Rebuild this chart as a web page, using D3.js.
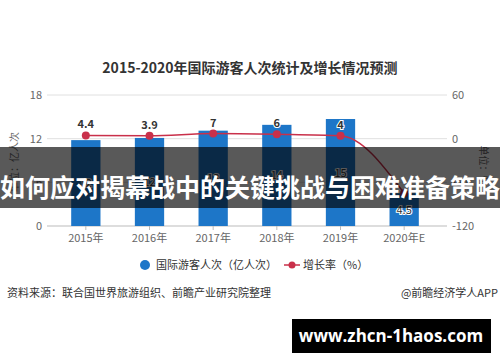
<!DOCTYPE html>
<html>
<head>
<meta charset="utf-8">
<script src="https://cdn.jsdelivr.net/npm/d3@7"></script>
<style>
  body { margin: 0; background: #fff; }
  svg { display: block; font-family: "Noto Sans CJK SC", "Noto Sans", sans-serif; }
</style>
</head>
<body>
<svg id="vis" width="500" height="362"></svg>
<script>
// data
var years = ["2015年", "2016年", "2017年", "2018年", "2019年", "2020年E"];
var visitors = [11.8, 12.1, 13.1, 13.9, 14.7, 4.5];          // 亿人次
var visitorLabels = ["12", "12", "13", "14", "15", "4.5"];
var growth = [4.4, 3.9, 7, 6, 4, -75];                       // %
var growthLabels = ["4.4", "3.9", "7", "6", "4", ""];
var leftTicks = [0, 6, 12, 18];
var rightTicks = [-120, -60, 0, 60];

var colors = {
  bar: "#1d76c8",
  line: "#c9304a",
  grid: "#e0e0e0",
  text: "#333",
  axisText: "#666"
};

var svg = d3.select("svg#vis");

var attr = {
  left: 54,
  right: 436,
  top: 95,
  bottom: 226
};

var x = d3.scaleBand()
  .domain(years)
  .range([attr.left, attr.right])
  .padding(0);

var yLeft = d3.scaleLinear().domain([0, 18]).range([attr.bottom, attr.top]);
var yRight = d3.scaleLinear().domain([-120, 60]).range([attr.bottom, attr.top]);

var barW = x.bandwidth() * 0.46;
var cx = d => x(d) + x.bandwidth() / 2;

// title
svg.append("text")
  .attr("x", 250).attr("y", 73)
  .attr("text-anchor", "middle")
  .attr("font-size", "14px")
  .attr("font-weight", "bold")
  .attr("fill", colors.text)
  .text("2015-2020年国际游客人次统计及增长情况预测");

// gridlines
svg.append("g").selectAll("line")
  .data(leftTicks)
  .enter().append("line")
  .attr("x1", 47).attr("x2", 447)
  .attr("y1", d => yLeft(d)).attr("y2", d => yLeft(d))
  .attr("stroke", d => d == 0 ? "#bbb" : colors.grid)
  .attr("stroke-width", 1);

// left ticks
svg.append("g").selectAll("text")
  .data(leftTicks)
  .enter().append("text")
  .attr("x", 42).attr("y", d => yLeft(d) + 4)
  .attr("text-anchor", "end")
  .attr("font-size", "11px")
  .attr("fill", colors.axisText)
  .text(d => d);

// right ticks
svg.append("g").selectAll("text")
  .data(rightTicks)
  .enter().append("text")
  .attr("x", 452).attr("y", d => yRight(d) + 4)
  .attr("text-anchor", "start")
  .attr("font-size", "11px")
  .attr("fill", colors.axisText)
  .text(d => d);

// axis titles
svg.append("text")
  .attr("transform", "translate(18,162) rotate(-90)")
  .attr("text-anchor", "middle")
  .attr("font-size", "10px")
  .attr("fill", colors.axisText)
  .text("单位：亿人次");

svg.append("text")
  .attr("transform", "translate(480,165) rotate(90)")
  .attr("text-anchor", "middle")
  .attr("font-size", "10px")
  .attr("fill", colors.axisText)
  .text("单位：%");

// x axis
var xAxis = svg.append("g")
  .attr("transform", "translate(0," + attr.bottom + ")")
  .call(d3.axisBottom(x).tickSize(4).tickPadding(4));
xAxis.select(".domain").remove();
xAxis.selectAll(".tick line").attr("stroke", "#bbb");
xAxis.selectAll(".tick text")
  .attr("font-size", "11px")
  .attr("font-family", "\"Noto Sans CJK SC\", sans-serif")
  .attr("fill", colors.axisText);

// bars
svg.append("g").selectAll("rect")
  .data(years)
  .enter().append("rect")
  .attr("x", d => cx(d) - barW / 2)
  .attr("width", barW)
  .attr("y", (d, i) => yLeft(visitors[i]))
  .attr("height", (d, i) => attr.bottom - yLeft(visitors[i]))
  .attr("fill", colors.bar);

// bar labels
svg.append("g").selectAll("text")
  .data(years)
  .enter().append("text")
  .attr("x", d => cx(d))
  .attr("y", (d, i) => (yLeft(visitors[i]) + attr.bottom) / 2 + 4)
  .attr("text-anchor", "middle")
  .attr("font-size", "11px")
  .attr("fill", colors.text)
  .attr("stroke", "#fff").attr("stroke-width", 2)
  .attr("paint-order", "stroke")
  .text((d, i) => visitorLabels[i]);

// growth line
var line = d3.line()
  .x((d, i) => cx(years[i]))
  .y(d => yRight(d))
  .curve(d3.curveMonotoneX);

svg.append("path")
  .datum(growth)
  .attr("d", line)
  .attr("fill", "none")
  .attr("stroke", colors.line)
  .attr("stroke-width", 1.5);

svg.append("g").selectAll("circle")
  .data(growth)
  .enter().append("circle")
  .attr("cx", (d, i) => cx(years[i]))
  .attr("cy", d => yRight(d))
  .attr("r", 4)
  .attr("fill", colors.line);

svg.append("g").selectAll("text")
  .data(growth)
  .enter().append("text")
  .attr("x", (d, i) => cx(years[i]))
  .attr("y", d => yRight(d) - 7)
  .attr("text-anchor", "middle")
  .attr("font-size", "11px")
  .attr("font-weight", "bold")
  .attr("fill", colors.text)
  .attr("stroke", "#fff").attr("stroke-width", 2)
  .attr("paint-order", "stroke")
  .text((d, i) => growthLabels[i]);

// legend
var legend = svg.append("g").attr("font-size", "11px").attr("fill", colors.text);
legend.append("circle").attr("cx", 145).attr("cy", 265).attr("r", 5).attr("fill", colors.bar);
legend.append("text").attr("x", 156).attr("y", 269).text("国际游客人次（亿人次）");
legend.append("line").attr("x1", 284).attr("x2", 300).attr("y1", 265).attr("y2", 265)
  .attr("stroke", colors.line).attr("stroke-width", 1.5);
legend.append("circle").attr("cx", 292).attr("cy", 265).attr("r", 3.5).attr("fill", colors.line);
legend.append("text").attr("x", 303).attr("y", 269).text("增长率（%）");

// source
svg.append("text")
  .attr("x", 7).attr("y", 297)
  .attr("font-size", "11px")
  .attr("fill", colors.text)
  .text("资料来源：联合国世界旅游组织、前瞻产业研究院整理");
svg.append("text")
  .attr("x", 498).attr("y", 297)
  .attr("text-anchor", "end")
  .attr("font-size", "11px")
  .attr("fill", colors.text)
  .text("@前瞻经济学人APP");

// banner overlay
svg.append("rect")
  .attr("x", 0).attr("y", 147)
  .attr("width", 500).attr("height", 61)
  .attr("fill", "rgba(0,0,0,0.65)");
svg.append("text")
  .attr("x", 250).attr("y", 197)
  .attr("text-anchor", "middle")
  .attr("font-size", "25px")
  .attr("font-weight", "bold")
  .attr("fill", "#fff")
  .text("如何应对揭幕战中的关键挑战与困难准备策略");

// site box
svg.append("rect")
  .attr("x", 292).attr("y", 319)
  .attr("width", 199).attr("height", 34)
  .attr("fill", "#000");
svg.append("text")
  .attr("x", 391).attr("y", 342)
  .attr("text-anchor", "middle")
  .attr("font-family", "\"Open Sans\", sans-serif")
  .attr("font-size", "17px")
  .attr("font-weight", "bold")
  .attr("fill", "#fff")
  .text("www.zhcn-1haos.com");
</script>
</body>
</html>
